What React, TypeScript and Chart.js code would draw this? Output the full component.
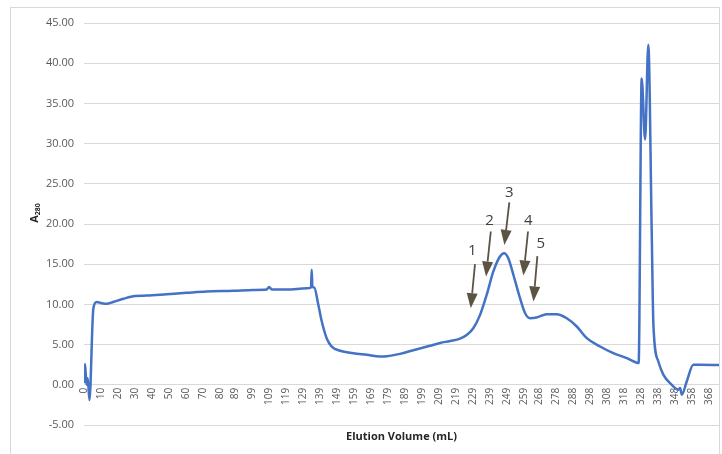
import React, { useEffect, useRef } from "react";
import { Chart, registerables } from "chart.js";

Chart.register(...registerables);

// Elution volume (mL) and absorbance at 280 nm
const volume = [
  0, 0.6, 1.5, 2.2, 3.2, 5.5, 7.5, 10.4, 13.4, 17.2, 23.1, 30, 36.9, 48.7, 60.4, 72.2, 87.9, 99.7,
  107.5, 109, 110.5, 119.3, 131.1, 133.6, 134.0, 134.4, 135.5, 137.9, 139.9, 142.8, 145.8, 150.7,
  158.5, 166.4, 174.2, 178.2, 186, 193.8, 203.6, 209.5, 215.5, 221.3, 225.2, 229.1, 233.1, 237.0,
  240.9, 244.8, 247.2, 249.7, 252.7, 256.6, 259.6, 262.5, 266.4, 272.3, 278.2, 284.1, 290.0, 295.9,
  303.7, 311.5, 319.4, 325.3, 326.4, 328.2, 330.2, 332.1, 334.1, 335.1, 338.0, 341.0, 345.9, 349.8,
  350.8, 351.8, 354.7, 358.6, 362.6, 373.7,
];
const a280 = [
  0.2, 2.6, 0.0, 0.8, -1.9, 9.5, 10.3, 10.15, 10.07, 10.3, 10.7, 11.05, 11.1, 11.27, 11.44, 11.6, 11.69, 11.8,
  11.85, 12.15, 11.85, 11.85, 12.0, 12.1, 14.3, 12.2, 12.1, 9.95, 7.9, 5.8, 4.76, 4.23,
  3.93, 3.73, 3.52, 3.55, 3.85, 4.3, 4.85, 5.2, 5.45, 5.75, 6.2, 7.04, 8.7, 11.2,
  14.1, 15.96, 16.37, 15.75, 13.68, 10.77, 8.9, 8.28, 8.37, 8.78, 8.78, 8.28, 7.25, 5.8,
  4.76, 3.93, 3.31, 2.75, 2.7, 38.1, 30.5, 42.3, 19.1, 7.46, 2.9, 1.24, 0, -0.62,
  -0.4, -1.24, 0.41, 2.49, 2.49, 2.45,
];

// Category tick labels on the x axis
const xTickLabels = [
  0, 10, 20, 30, 40, 50, 60, 70, 80, 89, 99, 109, 119, 129, 139, 149, 159, 169, 179, 189, 199,
  209, 219, 229, 239, 249, 259, 268, 278, 288, 298, 308, 318, 328, 338, 348, 358, 368,
];

// Fraction arrows (data units: mL, A280)
const fractionLabels = ["1", "2", "3", "4", "5"];
const arrowTipX = [227.6, 236.6, 247.4, 258.6, 264.5];
const arrowTipY = [9.53, 13.47, 17.4, 13.6, 10.36];
const arrowTailX = [230.1, 239.4, 250.3, 261.3, 266.8];
const arrowTailY = [15.0, 19.07, 22.7, 19.07, 16.0];
const fractionLabelX = [228.5, 238.6, 250.3, 261.5, 268.8];
const fractionLabelY = [16.7, 20.4, 23.9, 20.4, 17.5];

const FONT = "'Open Sans', 'DejaVu Sans', sans-serif";

const arrowPlugin = {
  id: "fractionArrows",
  afterDatasetsDraw(chart: any) {
    const { ctx, scales } = chart;
    const x = scales.x;
    const y = scales.y;
    ctx.save();
    const color = "#5b5442";
    for (let i = 0; i < fractionLabels.length; i++) {
      const tx = x.getPixelForValue(arrowTipX[i]);
      const ty = y.getPixelForValue(arrowTipY[i]);
      const sx = x.getPixelForValue(arrowTailX[i]);
      const sy = y.getPixelForValue(arrowTailY[i]);
      const ang = Math.atan2(ty - sy, tx - sx);
      const headLen = 15;
      const headW = 5.5;
      const bx = tx - headLen * Math.cos(ang);
      const by = ty - headLen * Math.sin(ang);
      ctx.strokeStyle = color;
      ctx.lineWidth = 1.8;
      ctx.beginPath();
      ctx.moveTo(sx, sy);
      ctx.lineTo(bx, by);
      ctx.stroke();
      const px = -Math.sin(ang);
      const py = Math.cos(ang);
      ctx.fillStyle = color;
      ctx.beginPath();
      ctx.moveTo(tx, ty);
      ctx.lineTo(bx + px * headW, by + py * headW);
      ctx.lineTo(bx - px * headW, by - py * headW);
      ctx.closePath();
      ctx.fill();

      ctx.fillStyle = "#404040";
      ctx.font = `15px ${FONT}`;
      ctx.textAlign = "center";
      ctx.textBaseline = "middle";
      ctx.fillText(
        fractionLabels[i],
        x.getPixelForValue(fractionLabelX[i]),
        y.getPixelForValue(fractionLabelY[i])
      );
    }
    ctx.restore();
  },
};

const yTitlePlugin = {
  id: "yTitleSub",
  afterDraw(chart: any) {
    const { ctx } = chart;
    ctx.save();
    ctx.translate(35, 213);
    ctx.rotate(-Math.PI / 2);
    ctx.fillStyle = "#262626";
    ctx.textBaseline = "middle";
    ctx.textAlign = "left";
    ctx.font = `bold 11px ${FONT}`;
    const aW = ctx.measureText("A").width;
    ctx.font = `bold 7px ${FONT}`;
    const sW = ctx.measureText("280").width;
    const start = -(aW + sW) / 2;
    ctx.font = `bold 11px ${FONT}`;
    ctx.fillText("A", start, 0);
    ctx.font = `bold 7px ${FONT}`;
    ctx.fillText("280", start + aW, 3);
    ctx.restore();
  },
};

export default function App() {
  const ref = useRef<HTMLCanvasElement | null>(null);

  useEffect(() => {
    if (!ref.current) return;
    const points = volume.map((v, i) => ({ x: v, y: a280[i] }));
    const chart = new Chart(ref.current, {
      type: "line",
      data: {
        datasets: [
          {
            data: points,
            borderColor: "#4472c4",
            borderWidth: 2.5,
            pointRadius: 0,
            cubicInterpolationMode: "monotone",
            fill: false,
          },
        ],
      },
      options: {
        animation: false,
        responsive: false,
        devicePixelRatio: 1,
        layout: { padding: { top: 23, right: 3, bottom: 0, left: 0 } },
        plugins: {
          legend: { display: false },
          tooltip: { enabled: false },
          title: {
            display: true,
            fullSize: false,
            text: "Elution Volume (mL)",
            position: "bottom",
            color: "#262626",
            font: { family: FONT, size: 11, weight: "bold" },
            padding: { top: 5.5, bottom: 10.3 },
          },
        },
        scales: {
          x: {
            type: "linear",
            min: 0,
            max: 373.7,
            position: { y: 0 } as any,
            afterBuildTicks: (s: any) => {
              s.ticks = xTickLabels.map((v) => ({ value: v }));
            },
            afterFit: (s: any) => {
              s.height = 0;
              s.paddingLeft = 0;
              s.paddingRight = 0;
            },
            ticks: {
              autoSkip: false,
              minRotation: 90,
              maxRotation: 90,
              padding: 3,
              color: "#595959",
              font: { family: FONT, size: 10 },
              callback: (v: any) => String(v),
            },
            grid: { display: false, drawTicks: false },
            border: { display: false },
          },
          y: {
            type: "linear",
            min: -5,
            max: 45,
            afterFit: (s: any) => {
              s.width = 84;
            },
            ticks: {
              stepSize: 5,
              padding: 10,
              color: "#595959",
              font: { family: FONT, size: 11 },
              callback: (v: any) => Number(v).toFixed(2),
            },
            grid: { color: "#d9d9d9", lineWidth: 1, drawTicks: false },
            border: { display: false },
          },
        },
      },
      plugins: [arrowPlugin, yTitlePlugin],
    });
    return () => chart.destroy();
  }, []);

  return (
    <div style={{ position: "fixed", left: 0, top: 0, width: 722, height: 454, background: "#fff" }}>
      <canvas ref={ref} width={722} height={454} style={{ display: "block", width: 722, height: 454 }} />
      <div
        style={{
          position: "absolute",
          left: 10,
          top: 7,
          width: 710,
          height: 460,
          border: "1px solid #d9d9d9",
          boxSizing: "border-box",
          pointerEvents: "none",
        }}
      />
    </div>
  );
}
